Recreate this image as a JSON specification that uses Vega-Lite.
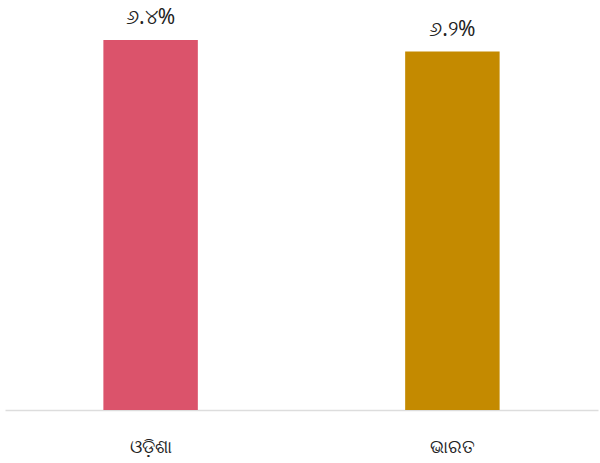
{
  "$schema": "https://vega.github.io/schema/vega-lite/v6.json",
  "autosize": {"type": "none"},
  "width": 595,
  "height": 370,
  "padding": {"left": 5, "top": 40, "right": 0, "bottom": 53},
  "background": "white",
  "config": {"view": {"stroke": null}},
  "data": {"values": [
    {"region": "ଓଡ଼ିଶା", "value": 6.4, "label": "୬.୪%"},
    {"region": "ଭାରତ", "value": 6.2, "label": "୬.୨%"}
  ]},
  "encoding": {
    "x": {"field": "region", "type": "nominal", "sort": null,
      "scale": {"paddingInner": 0.687, "paddingOuter": 0.326, "range": [0, 593]},
      "axis": {"title": null, "domainColor": "#dddddd", "domainWidth": 1.5, "ticks": false, "labelAngle": 0,
        "labelFontSize": 18, "labelColor": "#222222", "labelPadding": 28, "labelFont": "Noto Sans"}},
    "y": {"field": "value", "type": "quantitative", "scale": {"domain": [0, 6.4], "nice": false},
      "axis": null}
  },
  "layer": [
    {"mark": {"type": "bar"},
      "encoding": {"color": {"field": "region", "type": "nominal", "sort": null,
        "scale": {"range": ["#db536b", "#c48a00"]}, "legend": null}}},
    {"mark": {"type": "text", "baseline": "alphabetic", "dy": -16, "fontSize": 21, "color": "#222222", "font": "Noto Sans"},
      "encoding": {"text": {"field": "label"}}}
  ]
}
